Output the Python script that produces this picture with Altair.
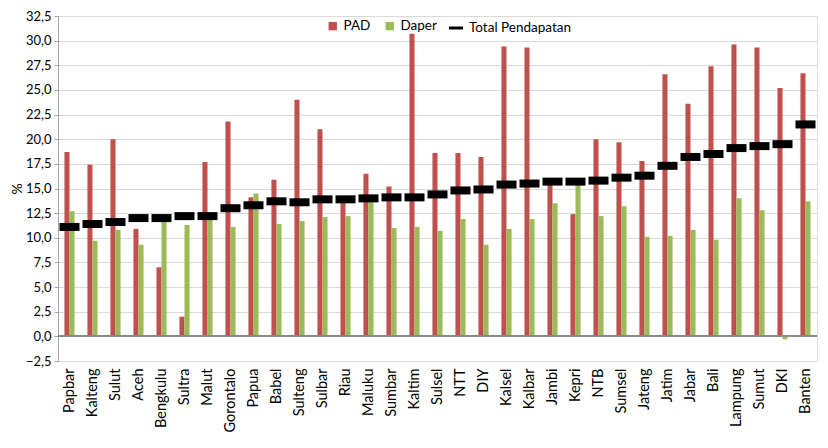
import altair as alt
import pandas as pd

provinces = ["Papbar", "Kalteng", "Sulut", "Aceh", "Bengkulu", "Sultra", "Malut", "Gorontalo",
             "Papua", "Babel", "Sulteng", "Sulbar", "Riau", "Maluku", "Sumbar", "Kaltim",
             "Sulsel", "NTT", "DIY", "Kalsel", "Kalbar", "Jambi", "Kepri", "NTB", "Sumsel",
             "Jateng", "Jatim", "Jabar", "Bali", "Lampung", "Sumut", "DKI", "Banten"]
pad = [18.7, 17.4, 20.0, 10.9, 7.0, 2.0, 17.7, 21.8, 14.1, 15.9, 24.0, 21.0, 13.9, 16.5, 15.2,
       30.7, 18.6, 18.6, 18.2, 29.4, 29.3, 15.6, 12.4, 20.0, 19.7, 17.8, 26.6, 23.6, 27.4,
       29.6, 29.3, 25.2, 26.7]
daper = [12.7, 9.7, 10.8, 9.3, 11.6, 11.3, 12.0, 11.1, 14.5, 11.4, 11.7, 12.1, 12.2, 13.8, 11.0,
         11.1, 10.7, 11.9, 9.3, 10.9, 11.9, 13.5, 15.5, 12.2, 13.2, 10.1, 10.2, 10.8, 9.8,
         14.0, 12.8, -0.3, 13.7]
total = [11.1, 11.4, 11.6, 12.0, 12.0, 12.2, 12.2, 13.0, 13.3, 13.7, 13.6, 13.9, 13.9, 14.0, 14.1,
         14.1, 14.4, 14.8, 14.9, 15.4, 15.5, 15.7, 15.7, 15.8, 16.1, 16.3, 17.3, 18.2, 18.5,
         19.1, 19.3, 19.5, 21.5]
y_ticks = [-2.5, 0, 2.5, 5, 7.5, 10, 12.5, 15, 17.5, 20, 22.5, 25, 27.5, 30, 32.5]

rows = []
for p, a, d in zip(provinces, pad, daper):
    rows.append({"prov": p, "series": "PAD", "value": a})
    rows.append({"prov": p, "series": "Daper", "value": d})
bars_df = pd.DataFrame(rows)
total_df = pd.DataFrame({"prov": provinces, "series": "Total Pendapatan", "value": total})

FONT = "Lato"

x_enc = alt.X("prov:N", sort=provinces,
              scale=alt.Scale(paddingInner=0.56, paddingOuter=0.28),
              axis=alt.Axis(title=None, labelAngle=-90, labelFontSize=14.5, labelColor="#000",
                            labelFont=FONT, domain=False, ticks=False, labelPadding=7))
y_scale = alt.Scale(domain=[-2.5, 32.5], nice=False, zero=False)
y_enc = alt.Y("value:Q", scale=y_scale,
              axis=alt.Axis(title="%", values=y_ticks, tickCount=len(y_ticks),
                            titleFontSize=14, titleFont=FONT,
                            titleFontWeight="normal", titlePadding=1, titleColor="#000",
                            labelExpr="replace(format(datum.value, '.1f'), '.', ',')",
                            labelOverlap=False, labelFontSize=13, labelFont=FONT,
                            labelColor="#000", labelPadding=3,
                            gridColor="#d9d9d9", domainColor="#a6a6a6", tickColor="#a6a6a6",
                            tickSize=4))

bars = alt.Chart(bars_df).mark_bar().encode(
    x=x_enc,
    xOffset=alt.XOffset("series:N", sort=["PAD", "Daper"], scale=alt.Scale(paddingInner=0, paddingOuter=0)),
    y=y_enc,
    color=alt.Color("series:N", sort=["PAD", "Daper"],
                    scale=alt.Scale(domain=["PAD", "Daper"], range=["#C0504D", "#9BBB59"]),
                    legend=alt.Legend(title=None, orient="none", direction="horizontal",
                                      legendX=268, legendY=3, symbolType="square", symbolSize=70,
                                      labelFontSize=13.5, labelFont=FONT, labelColor="#000",
                                      columnPadding=12)),
)

zero_rule = alt.Chart(total_df).mark_rule(color="#8c8c8c", strokeWidth=1).encode(y=alt.datum(0))

ticks = alt.Chart(total_df).mark_tick(size=20, thickness=8, opacity=1).encode(
    x=x_enc,
    y=y_enc,
    color=alt.Color("series:N", scale=alt.Scale(domain=["Total Pendapatan"], range=["#000000"]),
                    legend=alt.Legend(title=None, orient="none", legendX=389, legendY=3,
                                      symbolType="stroke", symbolStrokeWidth=3,
                                      symbolStrokeColor="#000000", symbolOpacity=1, symbolSize=200,
                                      labelFontSize=13.5, labelFont=FONT, labelColor="#000")),
)

chart = alt.layer(bars, zero_rule, ticks).resolve_scale(color="independent").properties(
    width=759, height=345,
    autosize=alt.AutoSizeParams(type="none"),
    padding={"left": 50, "top": 8, "right": 3, "bottom": 79}
).configure_view(stroke=None).configure(background="white")

chart.save("out.html", embed_options={"renderer": "svg", "actions": False})
